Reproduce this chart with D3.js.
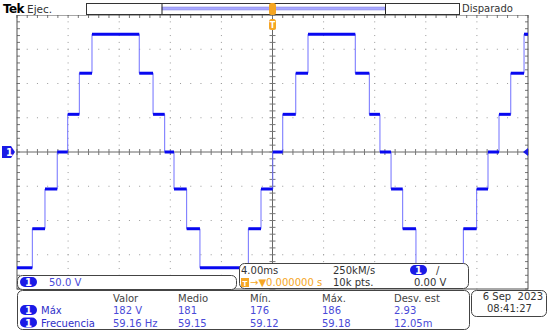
<!DOCTYPE html>
<html>
<head>
<meta charset="utf-8">
<script src="https://cdn.jsdelivr.net/npm/d3@7"></script>
<style>
  body { margin: 0; background: #fff; }
  svg { display: block; font-family: "DejaVu Sans", sans-serif; }
</style>
</head>
<body>
<svg id="scope" width="550" height="334"></svg>
<script>
// step transitions of channel 1 (ms from trigger) and the level (V) that starts there
const stepTimes = [-20, -18.80, -17.81, -16.85, -16.03, -15.12, -14.13, -10.43, -9.35, -8.44, -7.71, -6.72, -5.68,
  -1.89, -0.90, 0.02, 0.80, 1.82, 2.78, 6.48, 7.58, 8.41, 9.28, 10.19, 11.23, 14.94, 15.98, 16.87, 17.73, 18.65, 19.69];
const stepVolts = [-169, -112, -54, 0, 55, 115, 172, 115, 55, 0, -54, -112, -169,
  -112, -54, 0, 55, 115, 172, 115, 55, 0, -54, -112, -169, -112, -54, 0, 55, 115, 172];

const measHeaders = ["Valor", "Medio", "Mín.", "Máx.", "Desv. est"];
const measNames = ["Máx", "Frecuencia"];
const measRows = [
  ["182 V", "181", "176", "186", "2.93"],
  ["59.16 Hz", "59.15", "59.12", "59.18", "12.05m"]
];

const svg = d3.select("#scope");
const L = 17, R = 528, T = 15, B = 289;
const x = d3.scaleLinear().domain([-20, 20]).range([L, R]);
const y = d3.scaleLinear().domain([-200, 200]).range([B, T]);
const blue = "#1a1ae6", soft = "#4a4ad8", gridc = "#9a9a9a", frame = "#505050";

// graticule: dotted grid
const g = svg.append("g");
const xMinor = d3.range(-20, 20.01, 0.8), yMinor = d3.range(-200, 200.1, 10);
const xMajor = d3.range(-16, 16.1, 4), yMajor = d3.range(-150, 151, 50);
xMajor.filter(v => v !== 0).forEach(v => {
  yMinor.forEach(w => g.append("rect").attr("x", x(v) - 0.5).attr("y", y(w) - 0.5).attr("width", 1).attr("height", 1).attr("fill", gridc));
});
yMajor.filter(v => v !== 0).forEach(w => {
  xMinor.forEach(v => g.append("rect").attr("x", x(v) - 0.5).attr("y", y(w) - 0.5).attr("width", 1).attr("height", 1).attr("fill", gridc));
});
// centre axes with ticks
g.append("line").attr("x1", L).attr("x2", R).attr("y1", y(0)).attr("y2", y(0)).attr("stroke", "#666");
g.append("line").attr("x1", x(0)).attr("x2", x(0)).attr("y1", T).attr("y2", B).attr("stroke", "#666");
xMinor.forEach(v => {
  g.append("line").attr("x1", x(v)).attr("x2", x(v)).attr("y1", y(0) - 3).attr("y2", y(0) + 3).attr("stroke", "#777");
  g.append("line").attr("x1", x(v)).attr("x2", x(v)).attr("y1", T).attr("y2", T + 3).attr("stroke", "#777");
});
yMinor.forEach(w => {
  g.append("line").attr("x1", x(0) - 3).attr("x2", x(0) + 3).attr("y1", y(w)).attr("y2", y(w)).attr("stroke", "#777");
  g.append("line").attr("x1", L).attr("x2", L + 3).attr("y1", y(w)).attr("y2", y(w)).attr("stroke", "#777");
  g.append("line").attr("x1", R - 3).attr("x2", R).attr("y1", y(w)).attr("y2", y(w)).attr("stroke", "#777");
});
g.append("rect").attr("x", L).attr("y", T).attr("width", R - L).attr("height", B - T)
  .attr("fill", "none").attr("stroke", frame);

// waveform
const pts = stepTimes.map((t, i) => [t, stepVolts[i]]);
pts.push([20, stepVolts[stepVolts.length - 1]]);
svg.append("path").datum(pts)
  .attr("d", d3.line().x(d => x(d[0])).y(d => y(d[1])).curve(d3.curveStepAfter))
  .attr("fill", "none").attr("stroke", "#7070ff").attr("stroke-width", 1);
svg.append("g").selectAll("line").data(stepTimes).join("line")
  .attr("x1", (t, i) => x(t)).attr("x2", (t, i) => i + 1 < stepTimes.length ? x(stepTimes[i + 1]) : x(20))
  .attr("y1", (t, i) => y(stepVolts[i])).attr("y2", (t, i) => y(stepVolts[i]))
  .attr("stroke", "#0808f0").attr("stroke-width", 3);

// channel marker on the left and trigger level arrow on the right
svg.append("path").attr("d", `M2,${y(0) - 6} H11 L15,${y(0)} L11,${y(0) + 6} H2 Z`).attr("fill", blue);
svg.append("text").attr("x", 6).attr("y", y(0) + 4).attr("fill", "#fff").attr("font-size", 10).attr("font-weight", "bold").text("1");
svg.append("path").attr("d", `M${R},${y(0) - 4} L${R - 5},${y(0)} L${R},${y(0) + 4} Z`).attr("fill", blue);

// top status bar
svg.append("rect").attr("x", 0).attr("y", 0).attr("width", 550).attr("height", T).attr("fill", "#fff");
svg.append("text").attr("x", 3).attr("y", 13).attr("font-size", 12).attr("font-weight", "bold").attr("letter-spacing", -0.6).text("Tek");
svg.append("text").attr("x", 27).attr("y", 13).attr("font-size", 10.5).attr("fill", "#333").text("Ejec.");
svg.append("rect").attr("x", 86.5).attr("y", 3.5).attr("width", 373).attr("height", 11).attr("fill", "#fff").attr("stroke", "#333");
svg.append("rect").attr("x", 162).attr("y", 7).attr("width", 223).attr("height", 3).attr("fill", "#a8a8ff").attr("stroke", "#8080e0").attr("stroke-width", 0.5);
svg.append("line").attr("x1", 162).attr("x2", 162).attr("y1", 4).attr("y2", 14).attr("stroke", "#222");
svg.append("line").attr("x1", 385.5).attr("x2", 385.5).attr("y1", 4).attr("y2", 14).attr("stroke", "#222");
svg.append("text").attr("x", 462).attr("y", 12).attr("font-size", 10).attr("fill", "#333").text("Disparado");

// trigger markers
const orange = "#f5a623";
svg.append("rect").attr("x", x(0) - 3.5).attr("y", 3).attr("width", 7).attr("height", 12).attr("rx", 2.5).attr("fill", orange);
svg.append("rect").attr("x", x(0) - 3.5).attr("y", 19).attr("width", 7).attr("height", 11).attr("rx", 2.5).attr("fill", orange);
svg.append("text").attr("x", x(0)).attr("y", 28).attr("text-anchor", "middle").attr("font-size", 8).attr("font-weight", "bold").attr("fill", "#fff").text("T");

function badge(cx, cy) {
  svg.append("rect").attr("x", cx - 8.5).attr("y", cy - 5).attr("width", 17).attr("height", 10).attr("rx", 5).attr("fill", blue);
  svg.append("text").attr("x", cx).attr("y", cy + 4).attr("text-anchor", "middle").attr("font-size", 10).attr("font-weight", "bold").attr("fill", "#fff").text("1");
}
function box(x0, y0, w, h) {
  svg.append("rect").attr("x", x0 + 0.5).attr("y", y0 + 0.5).attr("width", w).attr("height", h).attr("rx", 5)
    .attr("fill", "#fff").attr("stroke", "#444");
}

// channel box
box(17, 275, 219, 14);
badge(28.5, 282);
svg.append("text").attr("x", 49).attr("y", 286).attr("font-size", 10).attr("fill", soft).text("50.0 V");

// timebase / trigger box
box(239, 263, 229, 25);
svg.append("text").attr("x", 241).attr("y", 274).attr("font-size", 10).attr("fill", "#333").text("4.00ms");
svg.append("text").attr("x", 333).attr("y", 274).attr("font-size", 10).attr("fill", "#333").text("250kM/s");
badge(418.5, 270);
svg.append("text").attr("x", 436).attr("y", 274).attr("font-size", 10).attr("fill", "#333").text("/");
svg.append("rect").attr("x", 241).attr("y", 278).attr("width", 8).attr("height", 9).attr("fill", orange);
svg.append("text").attr("x", 245).attr("y", 286).attr("text-anchor", "middle").attr("font-size", 7).attr("font-weight", "bold").attr("fill", "#fff").text("T");
svg.append("text").attr("x", 250).attr("y", 286).attr("font-size", 10).attr("fill", orange).text("→▼0.000000 s");
svg.append("text").attr("x", 333).attr("y", 286).attr("font-size", 10).attr("fill", "#333").text("10k pts.");
svg.append("text").attr("x", 414).attr("y", 286).attr("font-size", 10).attr("fill", "#333").text("0.00 V");

// measurement box
box(17, 290, 452, 39);
const colX = [113, 178, 250, 322, 394];
measHeaders.forEach((h, i) => svg.append("text").attr("x", colX[i]).attr("y", 302).attr("font-size", 10).attr("fill", "#444").text(h));
measNames.forEach((n, r) => {
  const by = 314 + r * 12.5;
  badge(28.5, by - 4);
  svg.append("text").attr("x", 41).attr("y", by).attr("font-size", 10).attr("fill", "#3030c8").text(n);
  measRows[r].forEach((v, i) => svg.append("text").attr("x", colX[i]).attr("y", by).attr("font-size", 10).attr("fill", soft).text(v));
});

// date box
box(471, 290, 75, 26);
svg.append("text").attr("x", 543).attr("y", 300).attr("text-anchor", "end").attr("font-size", 10).attr("fill", "#333").attr("xml:space", "preserve").text("6 Sep  2023");
svg.append("text").attr("x", 487).attr("y", 312).attr("font-size", 10).attr("fill", "#333").text("08:41:27");
</script>
</body>
</html>
